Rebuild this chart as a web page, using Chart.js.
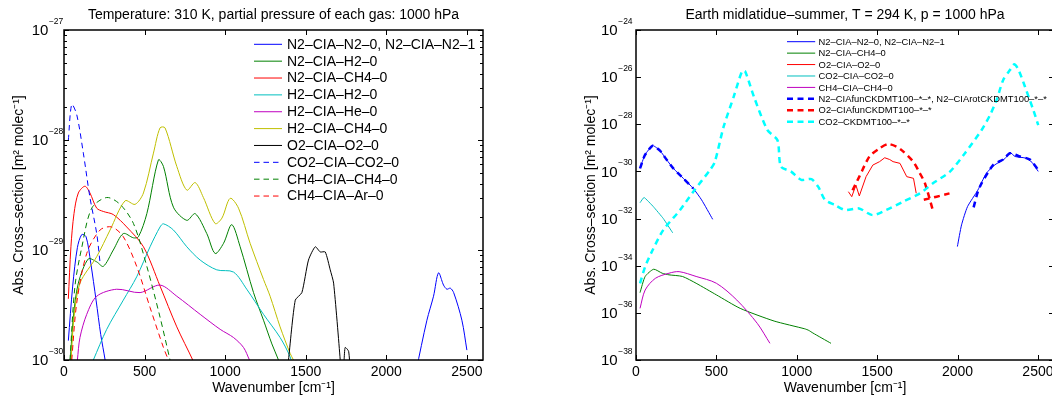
<!DOCTYPE html>
<html>
<head>
<meta charset="utf-8">
<script src="https://cdn.jsdelivr.net/npm/chart.js@4.4.1/dist/chart.umd.min.js"></script>
<style>
  html, body { margin: 0; padding: 0; background: #fff; overflow: hidden; width: 1052px; height: 400px; }
  #leftBox { position: absolute; left: 0; top: 0; width: 520px; height: 400px; }
  #rightBox { position: absolute; left: 520px; top: 0; width: 540px; height: 400px; }
</style>
</head>
<body>
<div id="leftBox"><canvas id="leftChart"></canvas></div>
<div id="rightBox"><canvas id="rightChart"></canvas></div>
<script>
const FONT = '"Liberation Sans", Arial, Helvetica, sans-serif';

// axes
const xTicks = [0, 500, 1000, 1500, 2000, 2500];
const leftDecades = [-30, -29, -28, -27];
const rightDecades = [-38, -36, -34, -32, -30, -28, -26, -24];

// left panel: 310 K, 1000 hPa each gas
const n2n2Wn1 = [27, 54, 83, 110, 137, 166, 199, 228, 255, 262];
const n2n2Val1 = [1.5e-30, 4.7e-30, 1.05e-29, 1.38e-29, 1.32e-29, 7.6e-30, 3.5e-30, 1.7e-30, 1.0e-30, 8e-31];
const n2n2Wn2 = [2185, 2252, 2293, 2324, 2355, 2376, 2397, 2418, 2469, 2500];
const n2n2Val2 = [8e-31, 2.3e-30, 3.8e-30, 6.2e-30, 4.8e-30, 4.4e-30, 4.5e-30, 4.1e-30, 2.3e-30, 1.23e-30];
const n2h2Wn = [35, 58, 89, 151, 203, 244, 306, 368, 431, 462, 514, 586, 617, 679, 762, 814, 886, 938, 990, 1041, 1093, 1176, 1238, 1290, 1331, 1340];
const n2h2Val = [8e-31, 2.45e-30, 5.0e-30, 8.3e-30, 7.8e-30, 7.1e-30, 1.0e-29, 1.41e-29, 1.29e-29, 1.32e-29, 2.14e-29, 6.6e-29, 5.75e-29, 2.45e-29, 1.86e-29, 2.14e-29, 1.41e-29, 9.3e-30, 1.15e-29, 1.7e-29, 1.07e-29, 4.1e-30, 2.3e-30, 1.4e-30, 1.0e-30, 9e-31];
const n2ch4Wn = [27, 43, 62, 89, 130, 161, 203, 244, 306, 389, 493, 596, 700, 799, 810];
const n2ch4Val = [3.6e-30, 1.07e-29, 2.14e-29, 3.3e-29, 3.8e-29, 3.3e-29, 2.4e-29, 2.24e-29, 2.1e-29, 1.62e-29, 1.07e-29, 4.7e-30, 2.0e-30, 1.0e-30, 9e-31];
const h2h2Wn = [182, 265, 368, 451, 534, 596, 617, 679, 762, 845, 948, 1052, 1134, 1238, 1341, 1403, 1420];
const h2h2Val = [1.0e-30, 1.9e-30, 3.5e-30, 5.7e-30, 1.07e-29, 1.62e-29, 1.73e-29, 1.52e-29, 1.07e-29, 8.1e-30, 6.6e-30, 6.3e-30, 4.4e-30, 2.6e-30, 1.6e-30, 1.07e-30, 8.5e-31];
const h2heWn = [83, 99, 141, 203, 327, 472, 596, 700, 845, 969, 1052, 1114, 1151];
const h2heVal = [1.0e-30, 1.6e-30, 2.6e-30, 3.8e-30, 4.4e-30, 4.1e-30, 4.8e-30, 3.8e-30, 2.6e-30, 1.9e-30, 1.6e-30, 1.3e-30, 1.0e-30];
const h2ch4Wn = [44, 62, 99, 203, 286, 379, 441, 493, 555, 596, 627, 700, 762, 814, 865, 938, 980, 1031, 1083, 1155, 1238, 1279, 1341, 1403, 1424];
const h2ch4Val = [1.0e-30, 2.45e-30, 5.0e-30, 8.7e-30, 1.52e-29, 2.8e-29, 2.6e-29, 3.3e-29, 7.6e-29, 1.29e-28, 1.29e-28, 5.75e-29, 3.5e-29, 4.1e-29, 3.0e-29, 1.74e-29, 1.95e-29, 2.95e-29, 2.4e-29, 1.15e-29, 5.4e-30, 3.8e-30, 2.0e-30, 1.15e-30, 1.0e-30];
const o2o2Wn = [1393, 1435, 1476, 1517, 1559, 1590, 1621, 1652, 1673, 1714, 1725, 1738, 1745, 1766, 1776];
const o2o2Val = [1.0e-30, 3.5e-30, 4.1e-30, 8.1e-30, 1.07e-29, 9.6e-30, 9.6e-30, 6.6e-30, 5.0e-30, 1.0e-30, 5e-31, 1.0e-30, 1.3e-30, 1.2e-30, 8e-31];
const co2co2Wn = [27, 48, 79, 120, 161, 203, 224];
const co2co2Val = [1.0e-28, 2.1e-28, 1.7e-28, 7.6e-29, 3.0e-29, 1.41e-29, 7.6e-30];
const ch4ch4Wn = [37, 68, 110, 172, 265, 348, 431, 514, 596, 658];
const ch4ch4Val = [1.0e-30, 4.7e-30, 1.05e-29, 2.4e-29, 3.0e-29, 2.6e-29, 1.74e-29, 7.1e-30, 2.45e-30, 1.0e-30];
const ch4arWn = [48, 79, 141, 224, 296, 368, 451, 534, 617, 648];
const ch4arVal = [1.0e-30, 3.3e-30, 9.3e-30, 1.52e-29, 1.62e-29, 1.32e-29, 7.1e-30, 3.0e-30, 1.3e-30, 1.0e-30];

// right panel: midlatitude summer
const rN2Wn1 = [25, 56, 104, 149, 191, 232, 294, 356, 408, 477];
const rN2Val1 = [1.35e-30, 5.0e-30, 1.23e-29, 7.6e-30, 3.1e-30, 1.35e-30, 5.1e-31, 1.9e-31, 6.2e-32, 9.3e-33];
const rN2Wn2 = [1999, 2025, 2062, 2126, 2179, 2232, 2295, 2326, 2358, 2421, 2464, 2502];
const rN2Val2 = [6.5e-34, 5.4e-33, 3.2e-32, 1.6e-31, 8.3e-31, 1.9e-30, 3.5e-30, 6.3e-30, 4.3e-30, 3.7e-30, 2.4e-30, 1.0e-30];
const rN2ch4Wn = [25, 57, 110, 163, 205, 289, 374, 500, 648, 859, 1050, 1075, 1100, 1213];
const rN2ch4Val = [7.2e-36, 3.5e-35, 7.1e-35, 4.8e-35, 4.1e-35, 3.5e-35, 1.8e-35, 5.8e-36, 1.55e-36, 4.5e-37, 2.1e-37, 1.8e-37, 1.4e-37, 5.1e-38];
const rO2Wn = [1321, 1342, 1368, 1389, 1431, 1473, 1515, 1547, 1578, 1599, 1642, 1684, 1726, 1743];
const rO2Val = [1.38e-31, 8.5e-32, 2.6e-31, 9.1e-32, 6.0e-31, 1.86e-30, 2.6e-30, 3.8e-30, 3.2e-30, 2.6e-30, 2.2e-30, 6.0e-31, 5.1e-31, 1.18e-31];
const rCo2Wn = [25, 50, 108, 170, 228];
const rCo2Val = [4.7e-32, 7.9e-32, 3.2e-32, 1.0e-32, 2.5e-33];
const rCh4Wn = [25, 57, 120, 205, 268, 374, 500, 627, 754, 833];
const rCh4Val = [1.55e-36, 9.3e-36, 2.9e-35, 4.8e-35, 5.6e-35, 3.5e-35, 1.8e-35, 3.5e-36, 3.6e-37, 5.1e-38];
const rN2CkdWn1 = [25, 56, 104, 149, 191, 232, 294, 356];
const rN2CkdVal1 = [1.35e-30, 5.0e-30, 1.23e-29, 7.6e-30, 3.1e-30, 1.35e-30, 5.1e-31, 1.9e-31];
const rN2CkdWn2 = [2100, 2125, 2150, 2222, 2284, 2326, 2388, 2450, 2502];
const rN2CkdVal2 = [3.0e-32, 1.3e-31, 3.2e-31, 1.9e-30, 3.2e-30, 5.9e-30, 4.3e-30, 3.2e-30, 1.15e-30];
const rO2CkdWn1 = [1347, 1389, 1452, 1515, 1568, 1621, 1663, 1726, 1766, 1797, 1849];
const rO2CkdVal1 = [1.6e-31, 6.0e-31, 4.3e-30, 9.5e-30, 1.45e-29, 1.12e-29, 6.9e-30, 2.5e-30, 8.3e-31, 3.2e-31, 1.95e-32];
const rO2CkdWn2 = [1790, 1870, 1950];
const rO2CkdVal2 = [6.3e-32, 8.5e-32, 1.17e-31];
const rCo2CkdWn = [25, 57, 99, 170, 274, 356, 460, 490, 545, 608, 661, 680, 733, 817, 880, 901, 965, 1028, 1091, 1134, 1176, 1239, 1302, 1387, 1471, 1556, 1661, 1766, 1849, 1953, 2046, 2150, 2202, 2243, 2284, 2326, 2353, 2380, 2419, 2471, 2502];
const rCo2CkdVal = [1.8e-35, 9.1e-35, 4.0e-34, 3.3e-33, 2.3e-32, 1.38e-31, 1.15e-30, 2.5e-30, 7.9e-29, 1.5e-27, 1.86e-26, 1.7e-26, 1.5e-27, 5.75e-29, 2.1e-29, 1.6e-30, 9.8e-31, 4.4e-31, 4.7e-31, 2.2e-31, 6.2e-32, 3.7e-32, 2.3e-32, 2.7e-32, 1.4e-32, 2.3e-32, 5.2e-32, 1.17e-31, 3.2e-31, 9.8e-31, 5.9e-30, 5.75e-29, 2.45e-28, 1.07e-27, 7.6e-27, 2.0e-26, 3.5e-26, 2.0e-26, 4.0e-27, 4.1e-28, 9.3e-29];

// turn two arrays into {x,y} points
function pts(xs, ys) {
  return xs.map((x, i) => ({ x: x, y: ys[i] }));
}
// join two bands with a break in between
function bands(a, b) {
  return a.concat([{ x: b[0].x, y: null }], b);
}

function line(label, data, color, opts) {
  return Object.assign({
    label: label,
    data: data,
    borderColor: color,
    backgroundColor: color,
    borderWidth: 1,
    fill: false,
    tension: 0.3
  }, opts || {});
}

// inward ticks, box and 10^n labels like matlab
const matlabAxes = {
  id: 'matlabAxes',
  afterDatasetsDraw(chart, args, opts) {
    const { ctx, chartArea: a } = chart;
    const x = chart.scales.x, y = chart.scales.y;
    ctx.save();
    ctx.strokeStyle = '#000';
    ctx.lineWidth = 1;
    ctx.beginPath();
    x.ticks.forEach(t => {
      const px = Math.round(x.getPixelForValue(t.value)) + 0.5;
      ctx.moveTo(px, a.bottom); ctx.lineTo(px, a.bottom - 5);
      ctx.moveTo(px, a.top); ctx.lineTo(px, a.top + 5);
    });
    y.ticks.forEach(t => {
      const py = Math.round(y.getPixelForValue(t.value)) + 0.5;
      const len = t.major ? 5 : 3;
      ctx.moveTo(a.left, py); ctx.lineTo(a.left + len, py);
      ctx.moveTo(a.right, py); ctx.lineTo(a.right - len, py);
    });
    ctx.stroke();
    ctx.lineWidth = 1.5;
    ctx.strokeRect(a.left, a.top, a.right - a.left, a.bottom - a.top);

    ctx.fillStyle = '#000';
    y.ticks.filter(t => t.major).forEach(t => {
      const py = y.getPixelForValue(t.value);
      const exp = '\u2212' + Math.abs(Math.round(Math.log10(t.value)));
      ctx.font = '8.5px ' + FONT;
      ctx.textAlign = 'right';
      ctx.textBaseline = 'alphabetic';
      ctx.fillText(exp, a.left - opts.gap, py - 6);
      const w = ctx.measureText(exp).width;
      ctx.font = '15px ' + FONT;
      ctx.textBaseline = 'middle';
      ctx.fillText('10', a.left - opts.gap - w - 0.5, py + 1);
    });
    ctx.restore();
  }
};

// legend inside the axes, no frame
const boxLegend = {
  id: 'boxLegend',
  afterDatasetsDraw(chart, args, o) {
    const ctx = chart.ctx;
    ctx.save();
    ctx.font = o.size + 'px ' + FONT;
    ctx.textAlign = 'left';
    ctx.textBaseline = 'middle';
    chart.data.datasets.forEach((ds, i) => {
      const yy = o.y + i * o.row;
      ctx.strokeStyle = ds.borderColor;
      ctx.lineWidth = ds.borderWidth;
      ctx.setLineDash(ds.borderDash || []);
      ctx.beginPath();
      ctx.moveTo(o.x, yy);
      ctx.lineTo(o.x + o.len, yy);
      ctx.stroke();
      ctx.setLineDash([]);
      ctx.fillStyle = '#000';
      ctx.fillText(ds.label, o.x + o.len + o.gap, yy + 0.5);
    });
    ctx.restore();
  }
};

function makeOptions(cfg) {
  const first = cfg.decades[0], last = cfg.decades[cfg.decades.length - 1];
  return {
    responsive: true,
    maintainAspectRatio: false,
    animation: false,
    layout: { padding: { left: 0, right: cfg.padRight, top: 0, bottom: 0 } },
    elements: { point: { radius: 0, hoverRadius: 0 } },
    plugins: {
      legend: { display: false },
      tooltip: { enabled: false },
      title: {
        display: true,
        text: cfg.title,
        fullSize: false,
        color: '#000',
        font: { family: FONT, size: 14, weight: 'normal' },
        padding: { top: 7, bottom: 6.2 }
      },
      matlabAxes: { gap: cfg.labelGap },
      boxLegend: cfg.legend
    },
    scales: {
      x: {
        type: 'linear',
        min: 0,
        max: 2600,
        afterBuildTicks: s => { s.ticks = xTicks.map(v => ({ value: v })); },
        afterFit: s => { s.height = 40; },
        grid: { display: false, drawTicks: false },
        border: { display: false },
        ticks: { color: '#000', font: { family: FONT, size: 14 }, padding: 4, maxRotation: 0, callback: v => String(v) },
        title: {
          display: true,
          text: 'Wavenumber [cm\u207B\u00B9]',
          color: '#000',
          font: { family: FONT, size: 14 },
          padding: { top: 0, bottom: 3.6 }
        }
      },
      y: {
        type: 'logarithmic',
        min: Number('1e' + first),
        max: Number('1e' + last),
        afterBuildTicks: s => {
          const t = [];
          cfg.decades.forEach((d, i) => {
            t.push({ value: Number('1e' + d), major: true });
            if (cfg.minor && i < cfg.decades.length - 1) {
              for (let k = 2; k <= 9; k++) t.push({ value: k * Number('1e' + d), major: false });
            }
          });
          s.ticks = t;
        },
        afterFit: s => { s.width = cfg.yWidth; },
        grid: { display: false, drawTicks: false },
        border: { display: false },
        ticks: { display: false },
        title: {
          display: true,
          text: 'Abs. Cross\u2013section [m\u00B2 molec\u207B\u00B9]',
          color: '#000',
          font: { family: FONT, size: 14 },
          padding: { top: cfg.yTitlePad, bottom: 0 }
        }
      }
    }
  };
}

const dashL = [5.5, 4];
const leftSets = [
  line('N2\u2013CIA\u2013N2\u20130, N2\u2013CIA\u2013N2\u20131', bands(pts(n2n2Wn1, n2n2Val1), pts(n2n2Wn2, n2n2Val2)), '#0000ff'),
  line('N2\u2013CIA\u2013H2\u20130', pts(n2h2Wn, n2h2Val), '#008000'),
  line('N2\u2013CIA\u2013CH4\u20130', pts(n2ch4Wn, n2ch4Val), '#ff0000'),
  line('H2\u2013CIA\u2013H2\u20130', pts(h2h2Wn, h2h2Val), '#00bfbf'),
  line('H2\u2013CIA\u2013He\u20130', pts(h2heWn, h2heVal), '#bf00bf'),
  line('H2\u2013CIA\u2013CH4\u20130', pts(h2ch4Wn, h2ch4Val), '#bfbf00'),
  line('O2\u2013CIA\u2013O2\u20130', pts(o2o2Wn, o2o2Val), '#000000', { tension: 0.2 }),
  line('CO2\u2013CIA\u2013CO2\u20130', pts(co2co2Wn, co2co2Val), '#0000ff', { borderDash: dashL }),
  line('CH4\u2013CIA\u2013CH4\u20130', pts(ch4ch4Wn, ch4ch4Val), '#008000', { borderDash: dashL }),
  line('CH4\u2013CIA\u2013Ar\u20130', pts(ch4arWn, ch4arVal), '#ff0000', { borderDash: dashL })
];
leftSets.forEach((d, i) => { d.order = -i; });

const dashR = [6, 4.5];
const rightSets = [
  line('N2\u2013CIA\u2013N2\u20130, N2\u2013CIA\u2013N2\u20131', bands(pts(rN2Wn1, rN2Val1), pts(rN2Wn2, rN2Val2)), '#0000ff', { tension: 0.2 }),
  line('N2\u2013CIA\u2013CH4\u20130', pts(rN2ch4Wn, rN2ch4Val), '#008000', { tension: 0.2 }),
  line('O2\u2013CIA\u2013O2\u20130', pts(rO2Wn, rO2Val), '#ff0000', { tension: 0 }),
  line('CO2\u2013CIA\u2013CO2\u20130', pts(rCo2Wn, rCo2Val), '#00bfbf', { tension: 0.1 }),
  line('CH4\u2013CIA\u2013CH4\u20130', pts(rCh4Wn, rCh4Val), '#bf00bf', { tension: 0.3 }),
  line('N2\u2013CIAfunCKDMT100\u2013*\u2013*, N2\u2013CIArotCKDMT100\u2013*\u2013*', bands(pts(rN2CkdWn1, rN2CkdVal1), pts(rN2CkdWn2, rN2CkdVal2)), '#0000ff', { borderWidth: 2.5, borderDash: dashR, tension: 0.2 }),
  line('O2\u2013CIAfunCKDMT100\u2013*\u2013*', bands(pts(rO2CkdWn1, rO2CkdVal1), pts(rO2CkdWn2, rO2CkdVal2)), '#ff0000', { borderWidth: 2.5, borderDash: dashR, tension: 0.25 }),
  line('CO2\u2013CKDMT100\u2013*\u2013*', pts(rCo2CkdWn, rCo2CkdVal), '#00ffff', { borderWidth: 2.5, borderDash: dashR, tension: 0.25 })
];
rightSets.forEach((d, i) => { d.order = -i; });

new Chart(document.getElementById('leftChart'), {
  type: 'line',
  data: { datasets: leftSets },
  options: makeOptions({
    title: 'Temperature: 310 K, partial pressure of each gas: 1000 hPa',
    decades: leftDecades,
    minor: true,
    yWidth: 64,
    padRight: 37,
    yTitlePad: 10.4,
    labelGap: 0.7,
    legend: { x: 254, y: 44.3, row: 16.86, len: 28, gap: 5, size: 14 }
  }),
  plugins: [matlabAxes, boxLegend]
});

new Chart(document.getElementById('rightChart'), {
  type: 'line',
  data: { datasets: rightSets },
  options: makeOptions({
    title: 'Earth midlatidue\u2013summer, T = 294 K, p = 1000 hPa',
    decades: rightDecades,
    minor: false,
    yWidth: 116,
    padRight: 6,
    yTitlePad: 62.5,
    labelGap: 3.4,
    legend: { x: 267, y: 41.7, row: 11.43, len: 28.2, gap: 3.4, size: 9.4 }
  }),
  plugins: [matlabAxes, boxLegend]
});
</script>
</body>
</html>
